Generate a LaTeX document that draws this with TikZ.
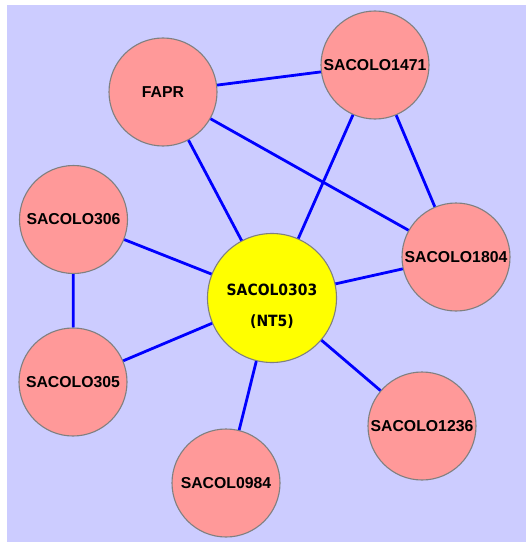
\documentclass[tikz,border=0pt]{standalone}
\usepackage{fontspec}
\setmainfont{Liberation Sans}
\newfontfamily\hubfont{DejaVu Sans Condensed Bold}
\definecolor{bglav}{HTML}{CCCCFF}
\definecolor{nodepink}{HTML}{FF9999}
\definecolor{hubyellow}{HTML}{FFFF00}
\definecolor{nodegray}{HTML}{808080}
\definecolor{linkblue}{HTML}{0000FF}
\begin{document}
\begin{tikzpicture}[x=1pt,y=-1pt,
  gene/.style={circle, draw=nodegray, line width=1.1pt, fill=nodepink, minimum size=108pt, inner sep=0pt, font=\fontsize{15.8}{18}\selectfont\bfseries},
  hub/.style={circle, draw=nodegray, line width=1.1pt, fill=hubyellow, minimum size=129pt, inner sep=0pt},
  hubtext/.style={align=center, inner sep=0pt, font=\hubfont\fontsize{15.5}{31}\selectfont},
  link/.style={draw=linkblue, line width=2.8pt}]
\useasboundingbox (0,0) rectangle (526,543);
\fill[bglav] (7,5) rectangle (526,541.5);
\node[gene] (fapr) at (163,92) {FAPR};
\node[gene] (s1471) at (375,65) {SACOLO1471};
\node[gene] (s306) at (73.5,219.5) {SACOLO306};
\node[gene] (s1804) at (456,257) {SACOLO1804};
\node[hub] (hub) at (272,298) {};
\node[hubtext] (hublabel) at (272,306) {SACOL0303\\(NT5)};
\node[gene] (s305) at (73,382) {SACOLO305};
\node[gene] (s1236) at (422,426) {SACOLO1236};
\node[gene] (s0984) at (226,483) {SACOL0984};
\draw[link] (fapr) -- (s1471);
\draw[link] (fapr) -- (hub);
\draw[link] (fapr) -- (s1804);
\draw[link] (s1471) -- (hub);
\draw[link] (s1471) -- (s1804);
\draw[link] (s306) -- (hub);
\draw[link] (s306) -- (s305);
\draw[link] (s305) -- (hub);
\draw[link] (s1804) -- (hub);
\draw[link] (s1236) -- (hub);
\draw[link] (s0984) -- (hub);
\end{tikzpicture}
\end{document}
